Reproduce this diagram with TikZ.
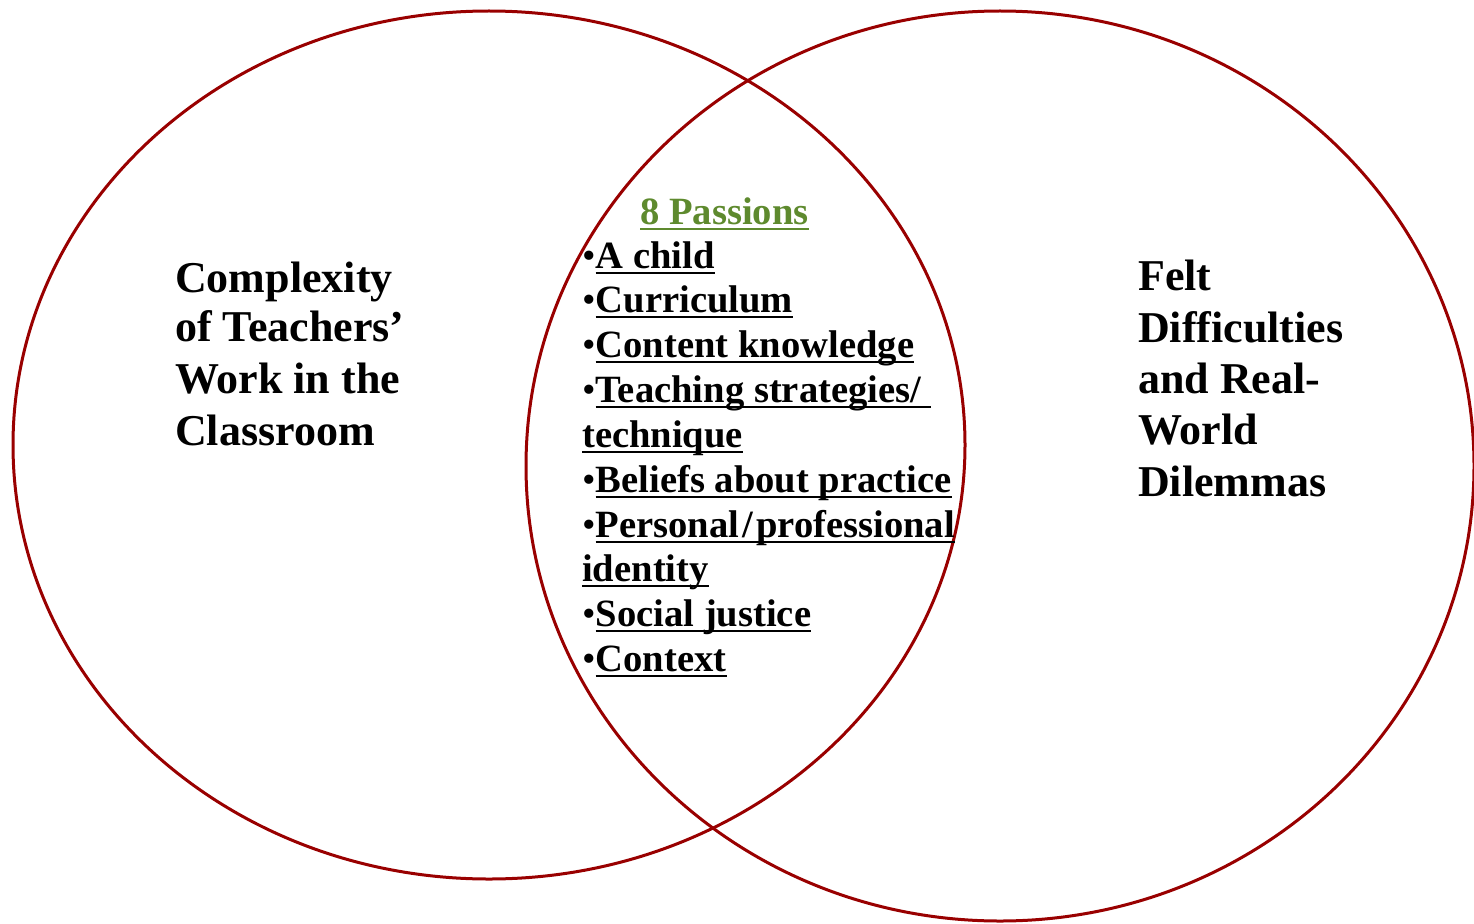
\documentclass[tikz,border=0pt]{standalone}
\usepackage{fontspec}
\setmainfont{Liberation Serif}
\definecolor{vred}{RGB}{153,0,0}
\definecolor{pgreen}{RGB}{94,138,46}
\newcommand{\ulx}[1]{\setbox0\hbox{#1}\rlap{\rule[-6pt]{\wd0}{2pt}}\box0}
\newcommand{\bul}{\textmd{•}}
\tikzset{
  ring/.style={draw=vred, line width=3pt},
  big/.style={anchor=base west, inner sep=0pt, font=\fontsize{44}{52}\selectfont\bfseries},
  item/.style={anchor=base west, inner sep=0pt, font=\fontsize{38.6}{44}\selectfont\bfseries},
}
\begin{document}
\begin{tikzpicture}[x=1pt,y=-1pt]
\useasboundingbox (0,0) rectangle (1474,923);
\clip (0,0) rectangle (1474,923);
\draw[ring] (489,445) ellipse [x radius=476, y radius=434];
\draw[ring] (1000,466) ellipse [x radius=474, y radius=455];
% left label
\node[big] (l1) at (175,292) {Complexity};
\node[big] (l2) at (175,341) {of Teachers’};
\node[big] (l3) at (175,393) {Work in the};
\node[big] (l4) at (175,445) {Classroom};
% right label
\node[big] (r1) at (1138,290) {Felt};
\node[big] (r2) at (1138,342) {Difficulties};
\node[big] (r3) at (1138,393) {and Real-};
\node[big] (r4) at (1138,444) {World};
\node[big] (r5) at (1138,496) {Dilemmas};
% passions
\node[item, text=pgreen] (p0) at (640,224) {\ulx{8 Passions}};
\node[item] (p1) at (582,268) {\bul\ulx{A child}};
\node[item] (p2) at (582,312) {\bul\ulx{Curriculum}};
\node[item] (p3) at (582,357) {\bul\ulx{Content knowledge}};
\node[item] (p4) at (582,402) {\bul\ulx{Teaching strategies/\ }};
\node[item] (p5) at (582,447) {\ulx{technique}};
\node[item] (p6) at (582,492) {\bul\ulx{Beliefs about practice}};
\node[item] (p7) at (582,537) {\bul\ulx{Personal\kern3pt/\kern3pt professional}};
\node[item] (p8) at (582,581) {\ulx{identity}};
\node[item] (p9) at (582,626) {\bul\ulx{Social justice}};
\node[item] (p10) at (582,671) {\bul\ulx{Context}};
\end{tikzpicture}
\end{document}
